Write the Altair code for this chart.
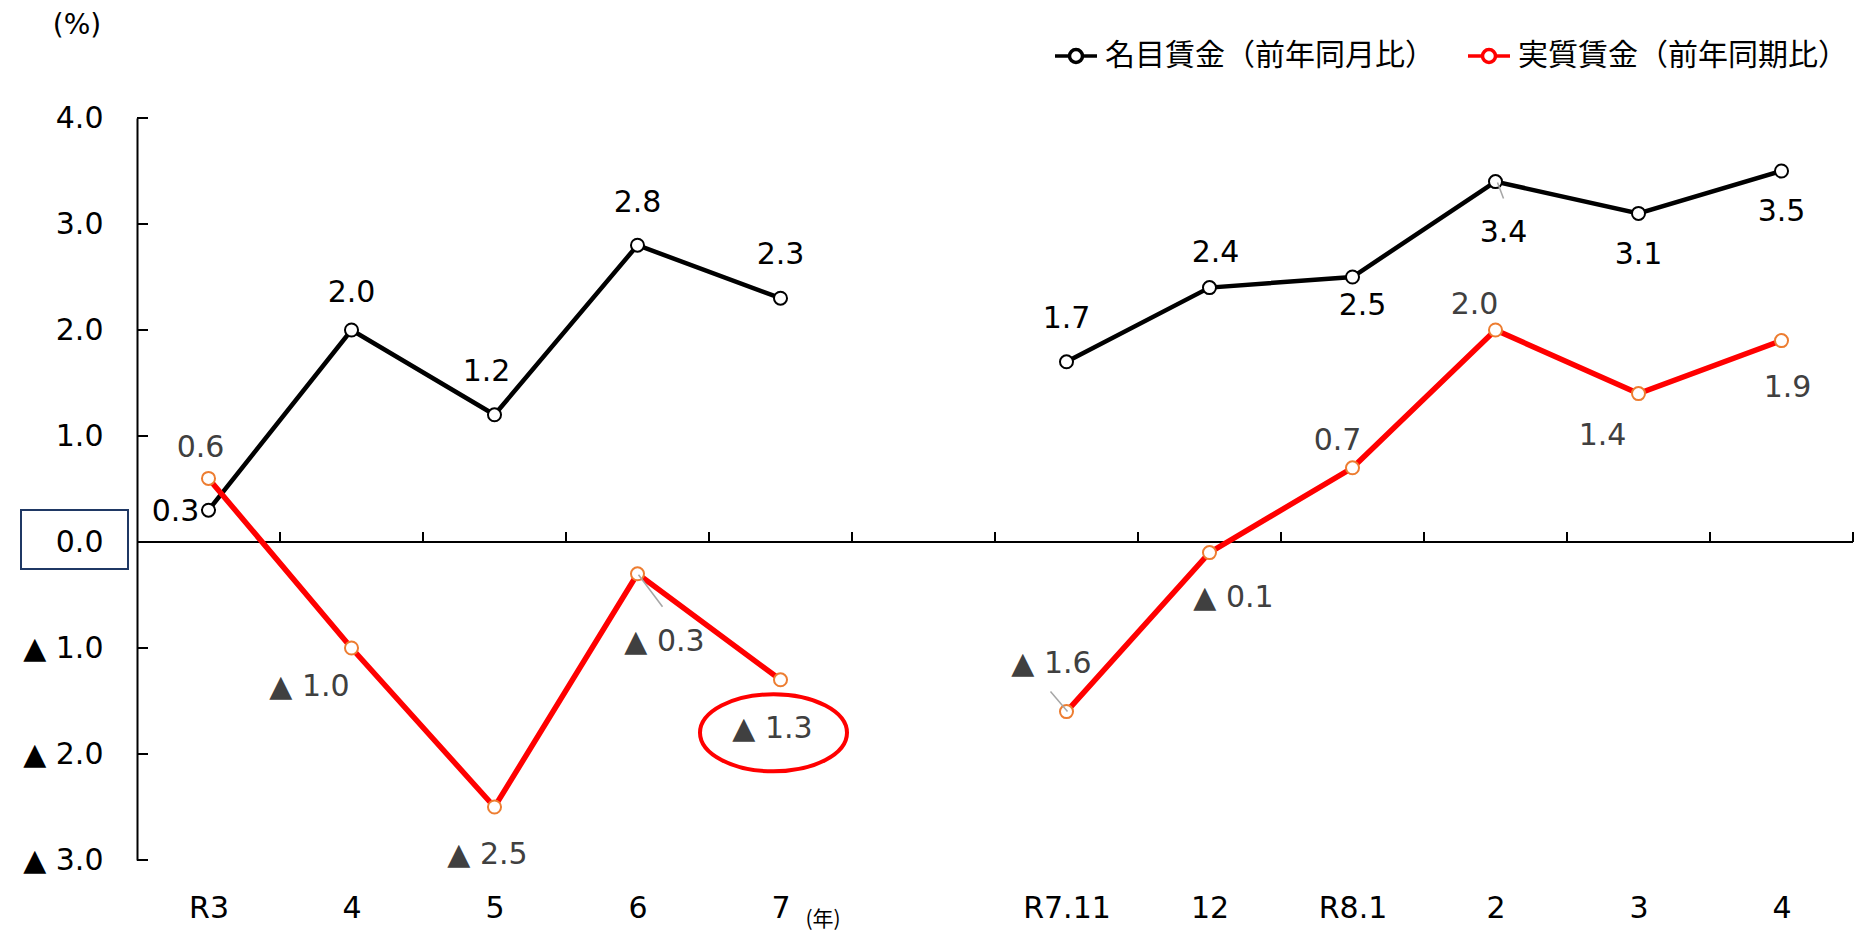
import altair as alt
import pandas as pd

# ---------------- data ----------------
categories = ["R3", "4", "5", "6", "7", "", "R7.11", "12", "R8.1", "2", "3", "4"]
segment = [1, 1, 1, 1, 1, 0, 2, 2, 2, 2, 2, 2]
nominal = [0.3, 2.0, 1.2, 2.8, 2.3, None, 1.7, 2.4, 2.5, 3.4, 3.1, 3.5]
real = [0.6, -1.0, -2.5, -0.3, -1.3, None, -1.6, -0.1, 0.7, 2.0, 1.4, 1.9]
series_names = ["名目賃金（前年同月比）", "実質賃金（前年同期比）"]
y_ticks = [-3, -2, -1, 0, 1, 2, 3, 4]

# ---------------- layout (pixels) ----------------
W, H = 1716, 742
NX = len(categories)
PX_X = W / NX          # pixels per category
PX_Y = H / 7.0         # pixels per 1 percentage point

# label offsets from their point, in pixels
nom_dx = [-33, 0, -8, 0, 0, 0, 0, 6, 10, 8, 0, 0]
nom_dy = [2, -37, -43, -42, -43, 0, -43, -35, 29, 51, 42, 41]
real_dx = [-8, -42, -7, 27, -8, 0, -15, 24, -15, -21, -36, 6]
real_dy = [-30, 39, 48, 68, 49, 0, -48, 45, -27, -25, 42, 47]

# leader lines: (series, index, start dx, start dy, end dx, end dy) in pixels
leaders = [(0, 9, 2, 1, 8, 17), (1, 3, 1, 1, 25, 33), (1, 6, -16, -20, 1, 0)]


def fmt(v):
    return ("▲ " + f"{-v:.1f}") if v < 0 else f"{v:.1f}"


rows = []
for s, vals, dxs, dys in [(0, nominal, nom_dx, nom_dy), (1, real, real_dx, real_dy)]:
    for i, v in enumerate(vals):
        if v is None:
            continue
        rows.append({
            "idx": i, "series": series_names[s], "seg": segment[i], "value": v,
            "label": fmt(v),
            "lx": i + dxs[i] / PX_X, "ly": v - dys[i] / PX_Y, "s": s,
        })
df = pd.DataFrame(rows)
df_nom = df[df.s == 0]
df_real = df[df.s == 1]

lead_rows = []
for s, i, x1, y1, x2, y2 in leaders:
    v = (nominal if s == 0 else real)[i]
    lead_rows.append({"idx": i + x1 / PX_X, "value": v - y1 / PX_Y,
                      "idx2": i + x2 / PX_X, "value2": v - y2 / PX_Y})
df_lead = pd.DataFrame(lead_rows)

bounds = pd.DataFrame({"idx": [k + 0.5 for k in range(NX)]})
yt = pd.DataFrame({"value": y_ticks})
one = pd.DataFrame({"a": [0]})

FONT = "DejaVu Sans"
JP = "Noto Sans CJK JP"

label_js = "[" + ",".join("'" + c + "'" for c in categories) + "]"
x_axis = alt.Axis(values=list(range(NX)), labelExpr=label_js + "[datum.value]",
                  ticks=False, domain=False, grid=False, title=None,
                  labelFont=FONT, labelFontSize=30, labelColor="black",
                  labelPadding=33, labelFlush=False, labelOverlap=False)
y_axis = alt.Axis(values=y_ticks,
                  labelExpr="datum.value < 0 ? '▲ ' + format(-datum.value, '.1f') : format(datum.value, '.1f')",
                  ticks=False, grid=False, title=None, domainColor="black", domainWidth=2,
                  labelFont=FONT, labelFontSize=30, labelColor="black", labelPadding=34,
                  labelFlush=False, labelOverlap=False)
xs = alt.Scale(domain=[-0.5, NX - 0.5], nice=False, zero=False)
ys = alt.Scale(domain=[-3, 4], nice=False, zero=False)


def X(f):
    return alt.X(f, type="quantitative", scale=xs, axis=x_axis)


def Y(f):
    return alt.Y(f, type="quantitative", scale=ys, axis=y_axis)


zero_line = alt.Chart(one).mark_rule(color="black", strokeWidth=2).encode(
    x=alt.datum(-0.5), x2=alt.datum(NX - 0.5), y=alt.datum(0))

x_ticks = alt.Chart(bounds).mark_rule(color="black", strokeWidth=2).encode(
    x=X("idx"), y=alt.datum(0), y2=alt.datum(10 / PX_Y))

y_tick_marks = alt.Chart(yt).mark_rule(color="black", strokeWidth=2).encode(
    y=Y("value"), x=alt.value(0), x2=alt.value(11))

legend_path = ("M-1,0L-0.31,0M0.31,0L1,0M0.31,0A0.31,0.31,0,1,1,-0.31,0"
               "A0.31,0.31,0,1,1,0.31,0")
line_colors = alt.Color("series:N",
                        scale=alt.Scale(domain=series_names, range=["#000000", "#FF0000"]),
                        sort=series_names,
                        legend=alt.Legend(orient="none", legendX=916, legendY=-85,
                                          direction="horizontal", title=None,
                                          symbolType=legend_path, symbolSize=1764,
                                          symbolStrokeWidth=3.5, symbolFillColor="white",
                                          labelFont=JP, labelFontSize=30, labelColor="black",
                                          labelLimit=0, labelOffset=6, columnPadding=26,
                                          padding=0))
line_nom = alt.Chart(df_nom).mark_line(strokeWidth=4.5).encode(
    x=X("idx"), y=Y("value"), color=line_colors, detail="seg:N", order="idx:Q")
line_real = alt.Chart(df_real).mark_line(strokeWidth=5.5).encode(
    x=X("idx"), y=Y("value"), color=line_colors, detail="seg:N", order="idx:Q")

points = alt.Chart(df).mark_point(shape="circle", size=170, filled=True, fill="white",
                                  strokeWidth=2, opacity=1).encode(
    x=X("idx"), y=Y("value"),
    stroke=alt.Stroke("series:N",
                      scale=alt.Scale(domain=series_names, range=["#000000", "#ED7D31"]),
                      legend=None))

leader_lines = alt.Chart(df_lead).mark_rule(color="#A6A6A6", strokeWidth=1.5).encode(
    x=X("idx"), y=Y("value"), x2="idx2:Q", y2="value2:Q")

nom_labels = alt.Chart(df_nom).mark_text(font=FONT, fontSize=30, color="black",
                                         align="center", baseline="middle").encode(
    x=X("lx"), y=Y("ly"), text="label:N")
real_labels = alt.Chart(df_real).mark_text(font=FONT, fontSize=30, color="#404040",
                                           align="center", baseline="middle").encode(
    x=X("lx"), y=Y("ly"), text="label:N")

# annotations
zero_box = alt.Chart(one).mark_rect(fill="white", fillOpacity=0, stroke="#1F3864",
                                    strokeWidth=2).encode(
    x=alt.value(-116), x2=alt.value(-9), y=alt.value(392), y2=alt.value(451))

ell = df_real[df_real.idx == 4].iloc[0]
ellipse = alt.Chart(pd.DataFrame({"idx": [ell.lx + 1 / PX_X], "value": [ell.ly - 4 / PX_Y]})).mark_point(
    shape="M-1,0A1,0.524,0,1,0,1,0A1,0.524,0,1,0,-1,0Z", size=147 * 147,
    filled=False, stroke="#FF0000", strokeWidth=4, opacity=1).encode(
    x=X("idx"), y=Y("value"))

pct = alt.Chart(one).mark_text(font=FONT, fontSize=28, color="black",
                               align="center", baseline="middle", text="(%)").encode(
    x=alt.value(-60), y=alt.value(-92))
year = alt.Chart(one).mark_text(font=JP, fontSize=21, color="black",
                                align="center", baseline="middle", text="(年)").encode(
    x=alt.value(686), y=alt.value(802))

chart = alt.layer(
    zero_line, x_ticks, y_tick_marks, line_nom, line_real, points, leader_lines,
    nom_labels, real_labels, zero_box, ellipse, pct, year
).properties(
    width=W, height=H,
    autosize=alt.AutoSizeParams(type="none"),
    padding={"left": 137, "top": 118, "right": 15, "bottom": 74},
    background="white",
).configure_view(stroke=None)

chart.save("out.html", embed_options={"renderer": "svg", "actions": False})
